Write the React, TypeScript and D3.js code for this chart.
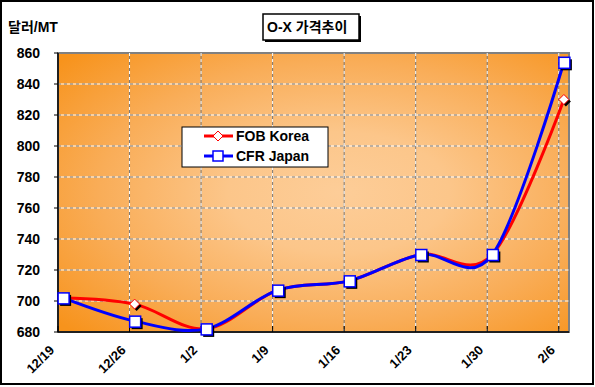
import React from "react";
import * as d3 from "d3";

const categories = ["12/19", "12/26", "1/2", "1/9", "1/16", "1/23", "1/30", "2/6"];
const fobKorea = [702, 698, 682, 707, 713, 730, 730, 830];
const cfrJapan = [702, 687, 682, 707, 713, 730, 730, 854];
const yTicks = [680, 700, 720, 740, 760, 780, 800, 820, 840, 860];

const W = 595;
const H = 387;
const plot = { left: 58, right: 569, top: 53, bottom: 332 };
const FONT = "'Liberation Sans', Arial, 'Noto Sans CJK KR', sans-serif";

// weekly points, each sits at the middle of its day slot
const x = d3.scaleLinear().domain([-0.5, 49.5]).range([plot.left, plot.right]);
const y = d3.scaleLinear().domain([680, 860]).range([plot.bottom, plot.top]);
const dayOf = (i: number) => i * 7;

const line = d3
  .line<number>()
  .x((_, i) => x(dayOf(i)))
  .y((d) => y(d))
  .curve(d3.curveCardinal.tension(0));

const diamond = (cx: number, cy: number, r: number) =>
  `M${cx},${cy - r}L${cx + r},${cy}L${cx},${cy + r}L${cx - r},${cy}Z`;

export default function App() {
  const tickDays = categories.map((_, i) => dayOf(i) - 0.5);
  return (
    <svg
      width={W}
      height={H}
      style={{ position: "absolute", left: 0, top: 0, background: "#fff" }}
      fontFamily={FONT}
    >
      <defs>
        <radialGradient id="bg" cx="0.55" cy="0.5" r="0.72">
          <stop offset="0" stopColor="#fdcd98" />
          <stop offset="0.3" stopColor="#fcc68a" />
          <stop offset="0.65" stopColor="#f9ad58" />
          <stop offset="1" stopColor="#f7931c" />
        </radialGradient>
      </defs>

      {/* outer frame */}
      <rect x={1} y={1} width={592} height={383} fill="#fff" stroke="#000" strokeWidth={2} />

      {/* plot area */}
      <rect
        x={plot.left}
        y={plot.top}
        width={plot.right - plot.left}
        height={plot.bottom - plot.top}
        fill="url(#bg)"
        stroke="#808080"
        strokeWidth={2}
      />

      {/* horizontal grid */}
      {yTicks.slice(1, -1).map((t) => (
        <g key={"h" + t}>
          <line x1={plot.left} x2={plot.right} y1={y(t)} y2={y(t)} stroke="#fff" strokeWidth={1} />
          <line
            x1={plot.left}
            x2={plot.right}
            y1={y(t)}
            y2={y(t)}
            stroke="#7a7a7a"
            strokeWidth={1}
            strokeDasharray="3,3"
          />
        </g>
      ))}
      {/* vertical grid */}
      {tickDays.slice(1).map((d) => (
        <g key={"v" + d}>
          <line x1={x(d)} x2={x(d)} y1={plot.top} y2={plot.bottom} stroke="#7a7a7a" strokeWidth={1} />
          <line
            x1={x(d)}
            x2={x(d)}
            y1={plot.top}
            y2={plot.bottom}
            stroke="#fff"
            strokeWidth={1}
            strokeDasharray="3,3"
          />
        </g>
      ))}

      {/* axes */}
      <line x1={plot.left} x2={plot.left} y1={plot.top} y2={plot.bottom} stroke="#000" strokeWidth={1.5} />
      <line x1={plot.left} x2={plot.right} y1={plot.bottom} y2={plot.bottom} stroke="#000" strokeWidth={1.5} />
      {yTicks.map((t) => (
        <g key={"yt" + t}>
          <line x1={plot.left - 4} x2={plot.left} y1={y(t)} y2={y(t)} stroke="#000" />
          <text x={40} y={y(t) + 5} textAnchor="end" fontSize={14} fontWeight="bold">
            {t}
          </text>
        </g>
      ))}
      {tickDays.map((d, i) => (
        <g key={"xt" + i}>
          <line x1={x(d)} x2={x(d)} y1={plot.bottom - 6} y2={plot.bottom} stroke="#000" />
          <text
            transform={`translate(${x(d) - 3},${plot.bottom + 19}) rotate(-45)`}
            textAnchor="end"
            fontSize={13}
            fontWeight="bold"
          >
            {categories[i]}
          </text>
        </g>
      ))}

      {/* series lines */}
      <path d={line(fobKorea) || ""} fill="none" stroke="#ff0000" strokeWidth={3} />
      <path d={line(cfrJapan) || ""} fill="none" stroke="#0000ff" strokeWidth={3} />

      {/* markers with shadows */}
      {fobKorea.map((v, i) => (
        <g key={"fm" + i}>
          <path d={diamond(x(dayOf(i)) + 2, y(v) + 2, 5)} fill="#000" />
          <path d={diamond(x(dayOf(i)), y(v), 5)} fill="#fff" stroke="#ff0000" strokeWidth={1} />
        </g>
      ))}
      {cfrJapan.map((v, i) => (
        <g key={"cm" + i}>
          <rect x={x(dayOf(i)) - 5 + 2} y={y(v) - 5 + 2} width={11} height={11} fill="#000" />
          <rect x={x(dayOf(i)) - 5} y={y(v) - 5} width={11} height={11} fill="#fff" stroke="#0000ff" strokeWidth={1.5} />
        </g>
      ))}

      {/* unit label */}
      <text x={8} y={32} fontSize={14} fontWeight="bold">
        달러/MT
      </text>

      {/* title box */}
      <rect x={265} y={16} width={96} height={26} fill="#000" />
      <rect x={263} y={14} width={96} height={26} fill="#fff" stroke="#000" strokeWidth={1.5} />
      <text x={267} y={32} fontSize={14} fontWeight="bold">
        O-X 가격추이
      </text>

      {/* legend */}
      <rect x={182} y={127} width={146} height={40} fill="#fff" stroke="#000" strokeWidth={1} />
      <line x1={204} x2={233} y1={136} y2={136} stroke="#ff0000" strokeWidth={3} />
      <path d={diamond(218, 136, 5)} fill="#fff" stroke="#ff0000" strokeWidth={1} />
      <text x={236} y={141} fontSize={14} fontWeight="bold">
        FOB Korea
      </text>
      <line x1={204} x2={233} y1={156} y2={156} stroke="#0000ff" strokeWidth={3} />
      <rect x={213} y={151} width={10} height={10} fill="#fff" stroke="#0000ff" strokeWidth={1.5} />
      <text x={236} y={161} fontSize={14} fontWeight="bold">
        CFR Japan
      </text>
    </svg>
  );
}
